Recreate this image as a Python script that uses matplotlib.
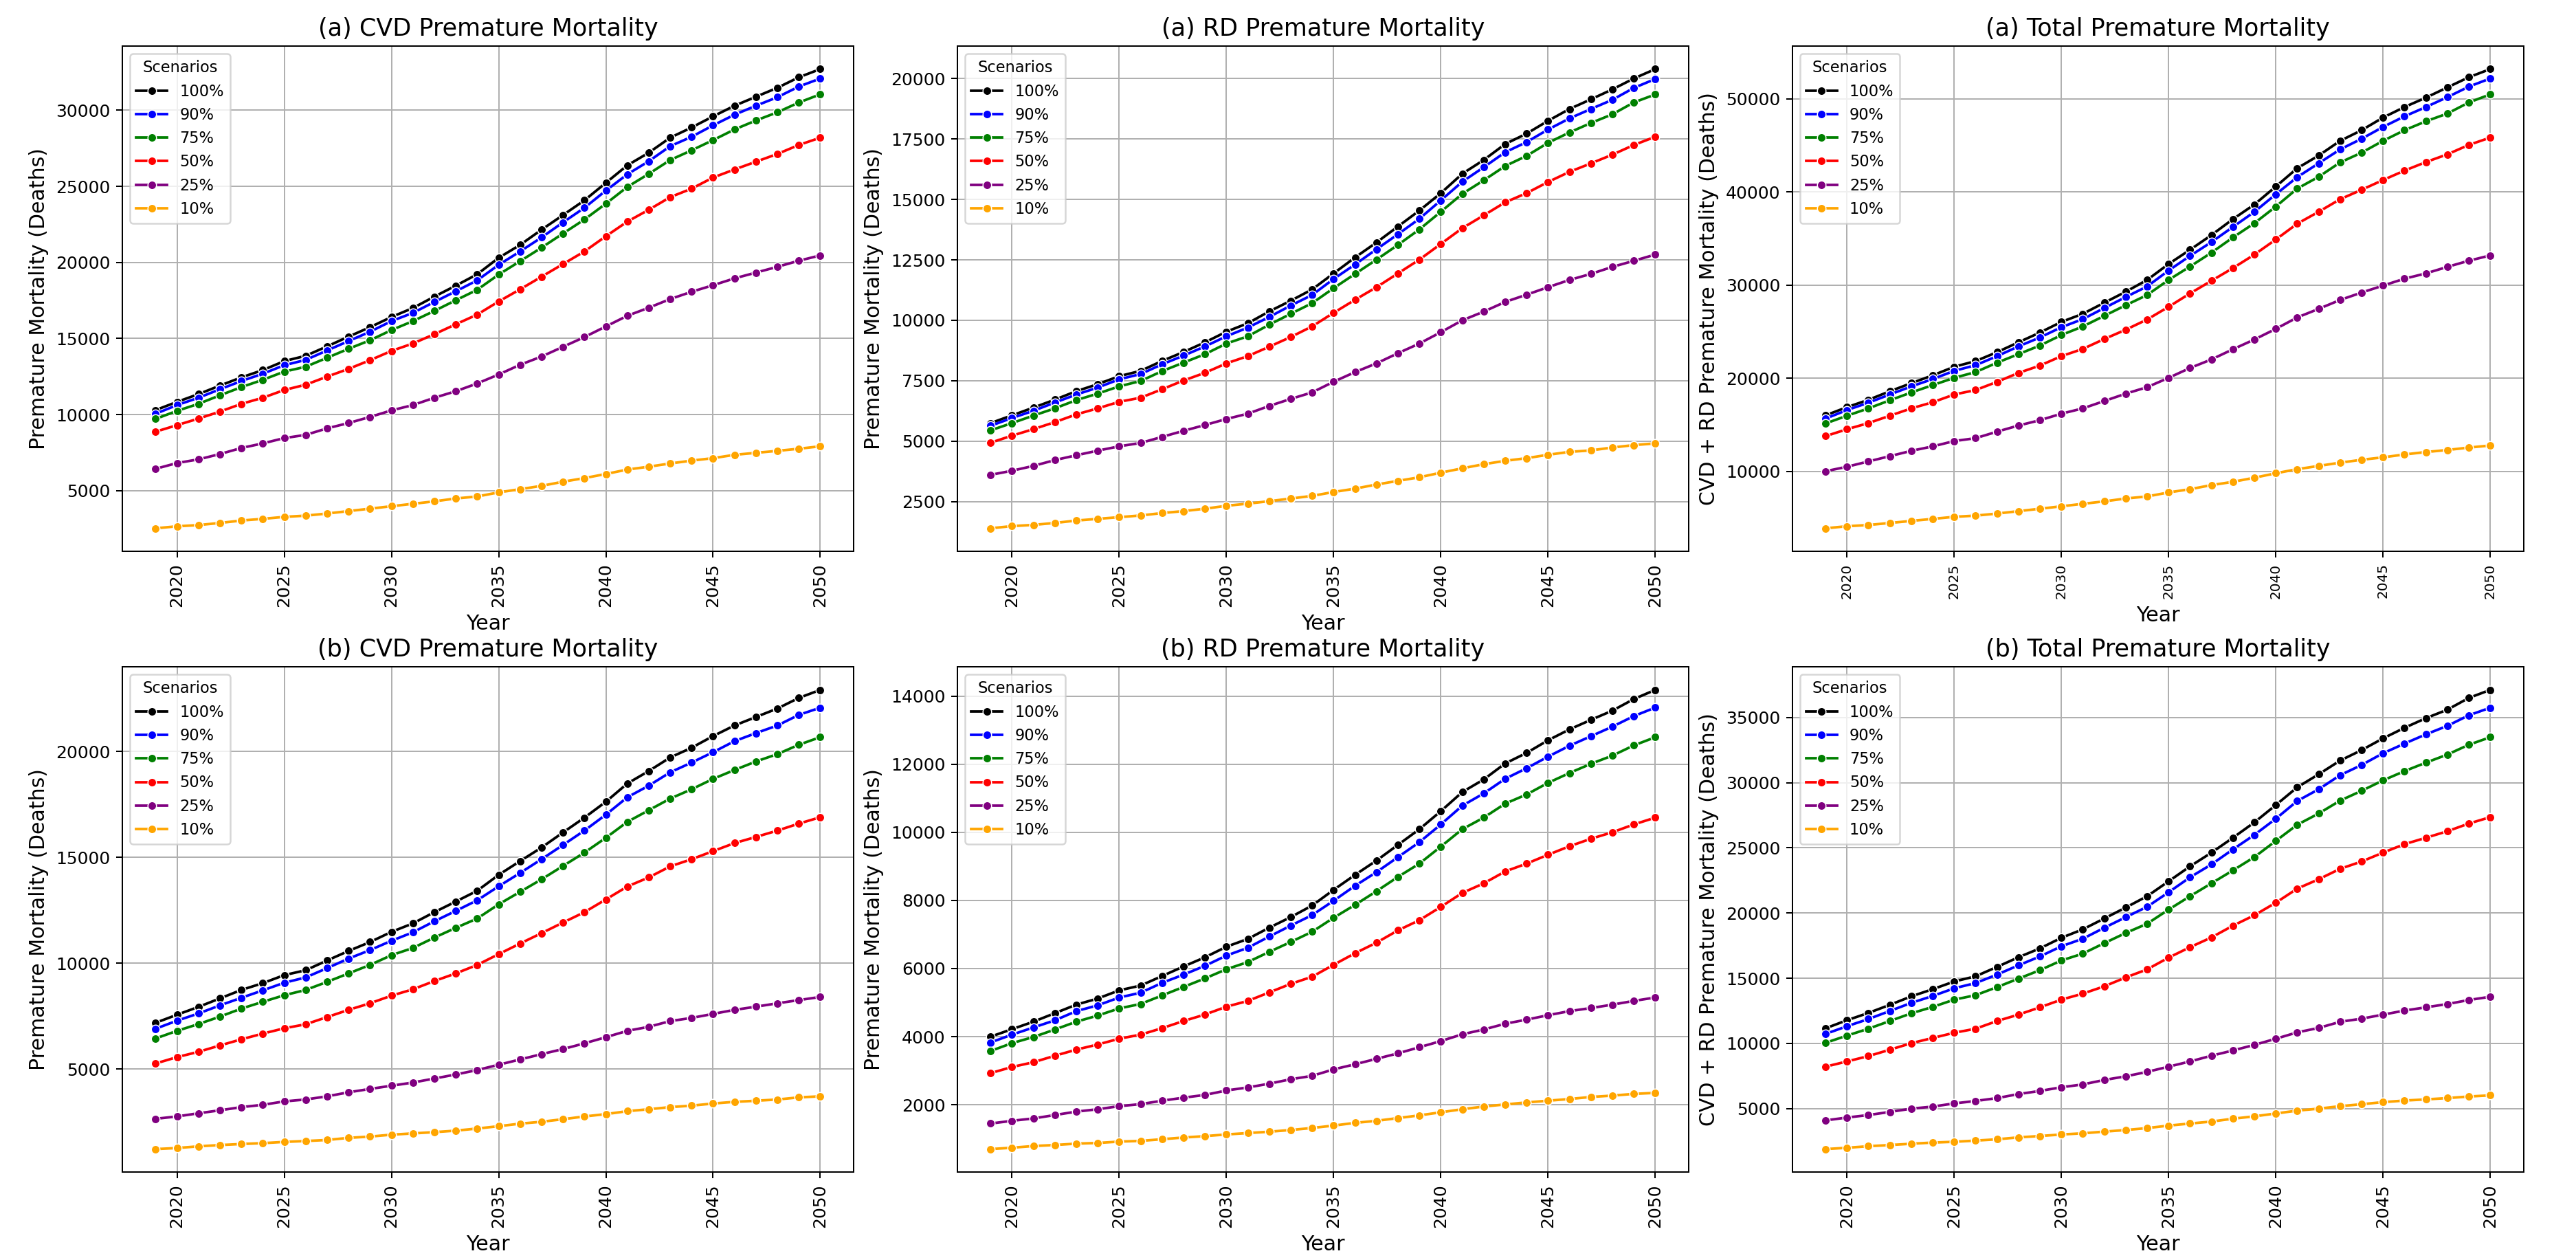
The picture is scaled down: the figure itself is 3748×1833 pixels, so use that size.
"""Premature mortality projections under vaccination scenarios, 2019-2050."""
import matplotlib
matplotlib.use("Agg")
import matplotlib.pyplot as plt

years = list(range(2019, 2051))
scenarios = ["100%", "90%", "75%", "50%", "25%", "10%"]
colors = ["black", "blue", "green", "red", "purple", "orange"]

# each panel: one row per scenario, in the order of `scenarios`
cvd_a = [
    [10290, 10830, 11340, 11900, 12440, 12920, 13510, 13860, 14480, 15120, 15740, 16410, 17000, 17750, 18470, 19220, 20300, 21150, 22150, 23110, 24080, 25230, 26380, 27210, 28200, 28870, 29600, 30300, 30890, 31480, 32170, 32710],
    [10050, 10620, 11100, 11660, 12200, 12680, 13240, 13590, 14210, 14830, 15440, 16140, 16680, 17400, 18100, 18820, 19840, 20720, 21640, 22630, 23590, 24720, 25790, 26650, 27640, 28260, 29010, 29710, 30300, 30860, 31560, 32090],
    [9710, 10240, 10700, 11260, 11800, 12280, 12820, 13140, 13730, 14320, 14880, 15550, 16140, 16810, 17510, 18200, 19200, 20080, 20970, 21900, 22820, 23860, 24960, 25820, 26730, 27370, 28040, 28740, 29330, 29870, 30510, 31050],
    [8870, 9300, 9730, 10190, 10700, 11100, 11610, 11960, 12490, 13000, 13570, 14180, 14670, 15280, 15930, 16570, 17430, 18230, 19060, 19890, 20720, 21720, 22680, 23460, 24290, 24850, 25580, 26110, 26620, 27130, 27720, 28200],
    [6430, 6810, 7050, 7400, 7800, 8100, 8450, 8660, 9090, 9440, 9840, 10270, 10620, 11100, 11530, 12040, 12630, 13270, 13810, 14450, 15090, 15790, 16490, 17020, 17590, 18070, 18500, 18950, 19330, 19710, 20110, 20460],
    [2520, 2650, 2730, 2870, 3030, 3140, 3270, 3350, 3490, 3650, 3810, 3970, 4130, 4290, 4480, 4610, 4880, 5090, 5310, 5580, 5820, 6090, 6380, 6570, 6780, 6970, 7130, 7350, 7480, 7610, 7750, 7910],
]
rd_a = [
    [5750, 6070, 6390, 6720, 7070, 7360, 7690, 7910, 8320, 8690, 9090, 9530, 9880, 10370, 10810, 11280, 11940, 12600, 13220, 13880, 14540, 15260, 16060, 16630, 17290, 17720, 18250, 18740, 19140, 19550, 20000, 20390],
    [5640, 5960, 6260, 6600, 6930, 7220, 7560, 7780, 8180, 8540, 8920, 9340, 9700, 10140, 10610, 11050, 11710, 12310, 12940, 13560, 14200, 14960, 15730, 16330, 16950, 17370, 17890, 18350, 18740, 19120, 19610, 19980],
    [5450, 5750, 6060, 6360, 6700, 6970, 7270, 7490, 7900, 8250, 8600, 9040, 9340, 9820, 10270, 10710, 11330, 11920, 12510, 13120, 13760, 14490, 15230, 15790, 16380, 16800, 17340, 17770, 18160, 18520, 19010, 19340],
    [4940, 5230, 5500, 5790, 6110, 6360, 6630, 6800, 7150, 7510, 7830, 8220, 8520, 8910, 9310, 9750, 10310, 10850, 11370, 11940, 12510, 13160, 13810, 14340, 14880, 15260, 15720, 16140, 16490, 16850, 17250, 17590],
    [3610, 3780, 3980, 4220, 4420, 4610, 4790, 4930, 5180, 5430, 5670, 5920, 6140, 6460, 6750, 7020, 7460, 7860, 8220, 8640, 9040, 9510, 10000, 10360, 10760, 11060, 11370, 11670, 11920, 12210, 12460, 12720],
    [1400, 1490, 1540, 1620, 1720, 1790, 1860, 1930, 2030, 2110, 2210, 2330, 2420, 2520, 2630, 2740, 2900, 3040, 3210, 3360, 3510, 3700, 3880, 4050, 4190, 4300, 4440, 4560, 4620, 4740, 4840, 4910],
]
total_a = [
    [16000, 16880, 17670, 18590, 19460, 20300, 21220, 21830, 22790, 23850, 24900, 26040, 26910, 28100, 29280, 30550, 32260, 33790, 35370, 37080, 38650, 40580, 42550, 43910, 45490, 46630, 47990, 49120, 50130, 51230, 52320, 53200],
    [15650, 16570, 17360, 18240, 19110, 19900, 20780, 21390, 22360, 23410, 24370, 25470, 26340, 27530, 28710, 29850, 31560, 33130, 34620, 36240, 37860, 39750, 41590, 43080, 44570, 45710, 46980, 48120, 49120, 50180, 51310, 52190],
    [15130, 15960, 16750, 17620, 18460, 19250, 20030, 20650, 21660, 22580, 23500, 24630, 25550, 26690, 27830, 28930, 30550, 31990, 33480, 35110, 36640, 38430, 40360, 41630, 43170, 44220, 45490, 46630, 47590, 48420, 49610, 50480],
    [13770, 14510, 15170, 15960, 16750, 17410, 18240, 18720, 19600, 20560, 21350, 22360, 23140, 24200, 25200, 26300, 27660, 29100, 30460, 31820, 33270, 34890, 36590, 37870, 39220, 40230, 41280, 42290, 43210, 44040, 45050, 45840],
    [10000, 10480, 11050, 11620, 12190, 12670, 13240, 13550, 14250, 14910, 15480, 16180, 16750, 17540, 18330, 19030, 20030, 21090, 22010, 23100, 24150, 25290, 26520, 27440, 28400, 29190, 29940, 30680, 31250, 31950, 32610, 33180],
    [3870, 4090, 4220, 4440, 4660, 4880, 5100, 5230, 5450, 5710, 5970, 6230, 6500, 6760, 7070, 7290, 7720, 8070, 8510, 8860, 9300, 9780, 10220, 10570, 10920, 11230, 11490, 11800, 12060, 12280, 12540, 12760],
]
cvd_b = [
    [7190, 7570, 7940, 8340, 8740, 9060, 9440, 9670, 10130, 10580, 11000, 11480, 11880, 12410, 12910, 13420, 14170, 14820, 15460, 16170, 16870, 17620, 18480, 19070, 19710, 20170, 20720, 21220, 21620, 22020, 22520, 22900],
    [6910, 7290, 7630, 8010, 8370, 8720, 9080, 9330, 9770, 10220, 10620, 11060, 11460, 11980, 12470, 12970, 13630, 14260, 14910, 15580, 16260, 17010, 17830, 18380, 19010, 19470, 19960, 20480, 20860, 21220, 21720, 22060],
    [6450, 6810, 7130, 7480, 7860, 8180, 8490, 8740, 9120, 9520, 9920, 10380, 10720, 11210, 11670, 12110, 12780, 13370, 13960, 14590, 15220, 15920, 16670, 17220, 17770, 18210, 18700, 19120, 19520, 19870, 20310, 20670],
    [5270, 5570, 5820, 6120, 6410, 6680, 6930, 7120, 7460, 7800, 8110, 8470, 8770, 9160, 9520, 9920, 10430, 10930, 11420, 11920, 12410, 13010, 13620, 14050, 14570, 14910, 15290, 15670, 15960, 16260, 16590, 16890],
    [2660, 2770, 2920, 3060, 3210, 3320, 3480, 3570, 3720, 3910, 4070, 4220, 4370, 4560, 4750, 4960, 5210, 5460, 5710, 5950, 6220, 6510, 6810, 7000, 7270, 7420, 7610, 7800, 7950, 8110, 8260, 8410],
    [1230, 1280, 1360, 1420, 1470, 1510, 1570, 1610, 1660, 1760, 1820, 1910, 1970, 2030, 2100, 2200, 2310, 2430, 2520, 2640, 2770, 2880, 3020, 3110, 3210, 3280, 3380, 3460, 3510, 3570, 3670, 3720],
]
rd_b = [
    [4000, 4220, 4440, 4690, 4940, 5120, 5360, 5500, 5780, 6060, 6330, 6640, 6870, 7200, 7510, 7850, 8310, 8750, 9170, 9630, 10090, 10620, 11180, 11550, 12020, 12330, 12700, 13020, 13300, 13570, 13910, 14180],
    [3830, 4060, 4270, 4480, 4750, 4920, 5150, 5290, 5580, 5820, 6080, 6380, 6610, 6940, 7260, 7570, 7990, 8430, 8830, 9270, 9710, 10230, 10780, 11140, 11570, 11880, 12220, 12540, 12820, 13100, 13410, 13660],
    [3580, 3810, 3990, 4210, 4440, 4620, 4830, 4960, 5210, 5460, 5710, 5980, 6190, 6490, 6780, 7080, 7490, 7870, 8270, 8690, 9080, 9580, 10090, 10430, 10840, 11110, 11450, 11740, 12010, 12250, 12550, 12790],
    [2930, 3110, 3250, 3440, 3620, 3770, 3940, 4060, 4250, 4460, 4650, 4880, 5050, 5300, 5550, 5760, 6110, 6450, 6760, 7120, 7420, 7810, 8220, 8500, 8850, 9080, 9340, 9590, 9810, 10000, 10230, 10430],
    [1450, 1530, 1600, 1700, 1800, 1870, 1960, 2020, 2120, 2210, 2290, 2420, 2510, 2620, 2750, 2850, 3040, 3190, 3350, 3510, 3690, 3870, 4070, 4210, 4380, 4500, 4630, 4750, 4840, 4940, 5050, 5150],
    [700, 740, 790, 820, 860, 880, 920, 940, 990, 1040, 1080, 1130, 1170, 1210, 1260, 1320, 1390, 1470, 1530, 1610, 1690, 1780, 1870, 1950, 2010, 2070, 2120, 2170, 2230, 2270, 2320, 2350],
]
total_b = [
    [11160, 11780, 12340, 12960, 13610, 14160, 14750, 15150, 15870, 16610, 17290, 18100, 18750, 19580, 20420, 21290, 22430, 23580, 24630, 25770, 26950, 28280, 29640, 30640, 31690, 32490, 33390, 34200, 34940, 35590, 36490, 37110],
    [10730, 11320, 11870, 12490, 13110, 13640, 14230, 14630, 15280, 15990, 16670, 17450, 18030, 18870, 19680, 20480, 21590, 22740, 23730, 24880, 25990, 27230, 28590, 29490, 30570, 31350, 32250, 32990, 33700, 34350, 35160, 35740],
    [10050, 10600, 11130, 11720, 12310, 12800, 13360, 13700, 14320, 14970, 15620, 16360, 16890, 17690, 18470, 19180, 20260, 21290, 22280, 23270, 24290, 25530, 26770, 27630, 28620, 29370, 30170, 30880, 31530, 32150, 32900, 33480],
    [8220, 8620, 9030, 9520, 10020, 10420, 10820, 11130, 11720, 12210, 12770, 13360, 13820, 14380, 15060, 15680, 16580, 17380, 18130, 19030, 19830, 20790, 21870, 22590, 23390, 23950, 24630, 25280, 25770, 26270, 26860, 27350],
    [4100, 4320, 4510, 4750, 5000, 5160, 5400, 5590, 5810, 6120, 6360, 6640, 6860, 7200, 7480, 7820, 8220, 8620, 9060, 9460, 9890, 10360, 10850, 11190, 11660, 11900, 12210, 12520, 12770, 13020, 13330, 13580],
    [1900, 2000, 2120, 2210, 2310, 2400, 2460, 2550, 2650, 2800, 2900, 3020, 3110, 3240, 3360, 3510, 3700, 3860, 4010, 4230, 4410, 4630, 4850, 5000, 5190, 5340, 5500, 5620, 5710, 5810, 5930, 6020],
]

panels = [
    ("(a) CVD Premature Mortality", "Premature Mortality (Deaths)", cvd_a),
    ("(a) RD Premature Mortality", "Premature Mortality (Deaths)", rd_a),
    ("(a) Total Premature Mortality", "CVD + RD Premature Mortality (Deaths)", total_a),
    ("(b) CVD Premature Mortality", "Premature Mortality (Deaths)", cvd_b),
    ("(b) RD Premature Mortality", "Premature Mortality (Deaths)", rd_b),
    ("(b) Total Premature Mortality", "CVD + RD Premature Mortality (Deaths)", total_b),
]

fig, axes = plt.subplots(2, 3, figsize=(3748/180, 1833/180), dpi=180)
fig.subplots_adjust(left=0.0475, right=0.9796, bottom=0.0698, top=0.9634, wspace=0.142, hspace=0.229)
for i, (ax, (title, ylabel, rows)) in enumerate(zip(axes.flat, panels)):
    for name, color, vals in zip(scenarios, colors, rows):
        ax.plot(years, vals, color=color, lw=1.5, marker="o", ms=5, mec="white", mew=0.6, label=name)
    ax.set_title(title, fontsize=14)
    ax.set_xlabel("Year", fontsize=12)
    ax.set_ylabel(ylabel, fontsize=12)
    ax.set_xticks(range(2020, 2051, 5))
    ax.tick_params(axis="x", rotation=90, labelsize=8 if i == 2 else 10)
    ax.tick_params(axis="y", labelsize=10)
    ax.grid(True)
    ax.legend(title="Scenarios", loc="upper left", fontsize=9, title_fontsize=9)
fig.savefig("out.png", dpi=180)
